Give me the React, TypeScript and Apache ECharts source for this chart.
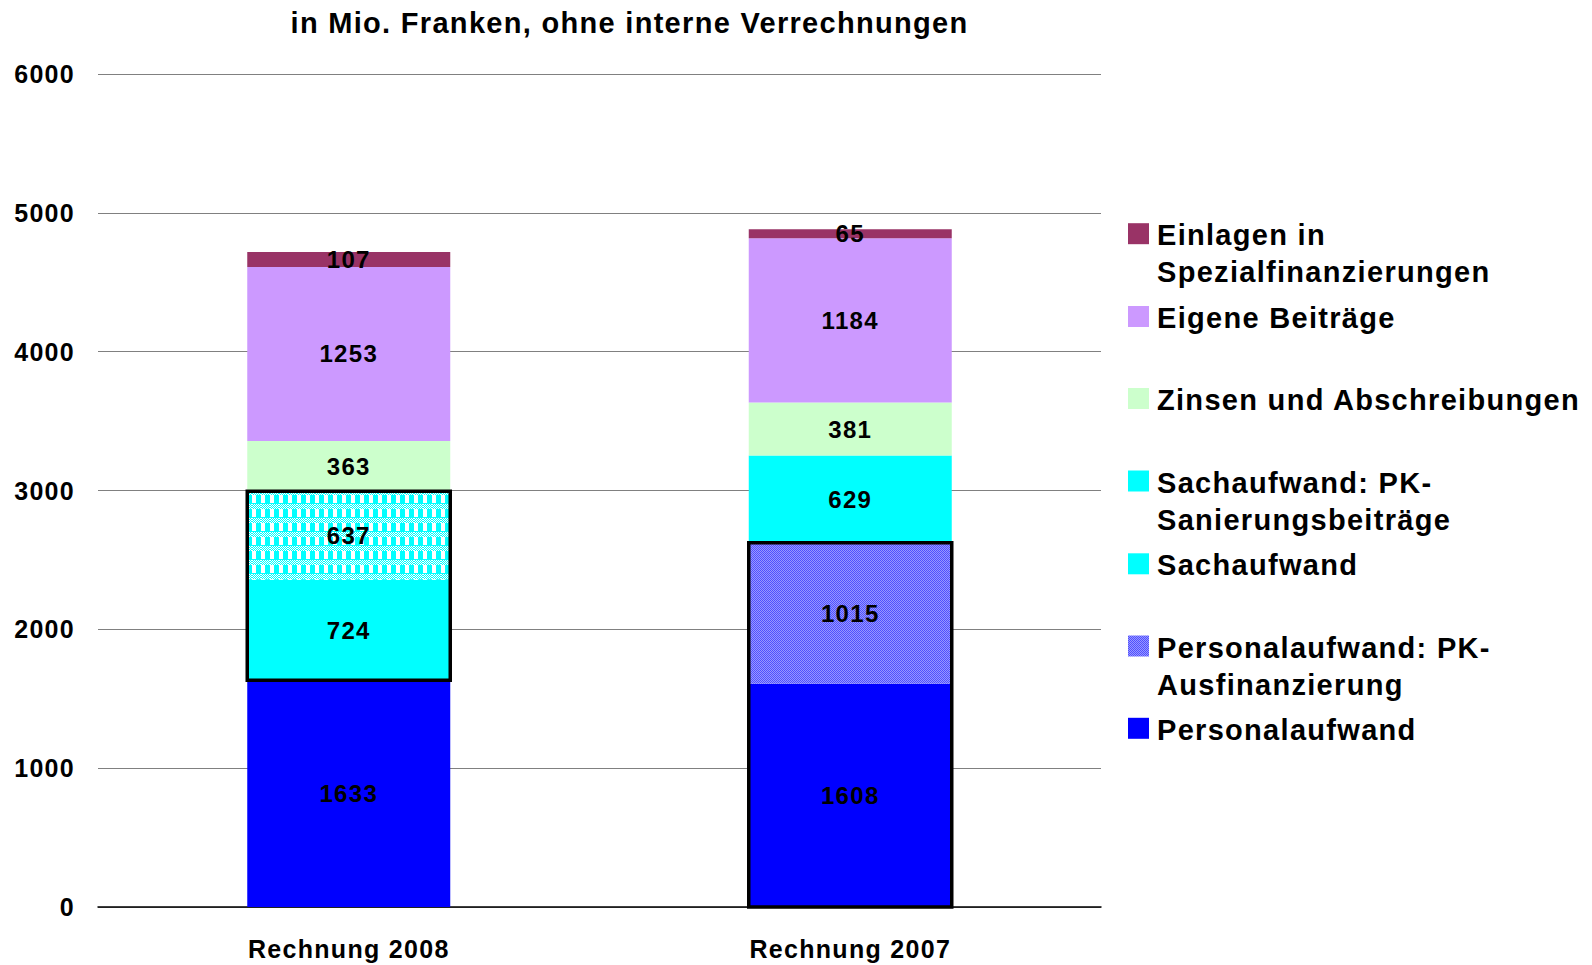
import React, { useEffect, useRef } from "react";
import * as echarts from "echarts";

const categories = ["Rechnung 2008", "Rechnung 2007"];
const personalaufwand = [1633, 1608];
const personalPK = [0, 1015];
const sachaufwand = [724, 629];
const sachPK = [637, 0];
const zinsen = [363, 381];
const eigene = [1253, 1184];
const einlagen = [107, 65];

const yMin = 0;
const yMax = 6000;
const yInterval = 1000;

const titleText = "in Mio. Franken, ohne interne Verrechnungen";

// series names that are framed with a black box, per category
const boxedGroups = [
  ["Sachaufwand", "Sachaufwand: PK-Sanierungsbeiträge"],
  ["Personalaufwand", "Personalaufwand: PK-Ausfinanzierung"],
];

const FONT = "'Liberation Sans', Arial, sans-serif";

function makePatternA() {
  const c = document.createElement("canvas");
  c.width = 9;
  c.height = 14;
  const g = c.getContext("2d")!;
  g.fillStyle = "#00FFFF";
  g.fillRect(0, 0, 9, 14);
  g.fillStyle = "#FFFFFF";
  for (let y = 0; y < 5; y++) {
    for (let x = 0; x < 9; x++) {
      if ((x + y) % 2 === 0) g.fillRect(x, y, 1, 1);
    }
  }
  g.fillRect(0, 5, 4, 8);
  return c;
}

function makePatternB() {
  const c = document.createElement("canvas");
  c.width = 2;
  c.height = 2;
  const g = c.getContext("2d")!;
  g.fillStyle = "#5050FF";
  g.fillRect(0, 0, 2, 2);
  g.fillStyle = "#9898FF";
  g.fillRect(1, 0, 1, 1);
  g.fillRect(0, 1, 1, 1);
  return c;
}

export default function App() {
  const ref = useRef<HTMLDivElement>(null);

  useEffect(() => {
    if (!ref.current) return;
    const chart = echarts.init(ref.current, null, { renderer: "svg" });

    const pa = makePatternA();
    const pb = makePatternB();
    const patternA: any = { image: pa, repeat: "repeat", imageWidth: 9, imageHeight: 14 };
    const patternB: any = { image: pb, repeat: "repeat", imageWidth: 2, imageHeight: 2 };

    const seriesDefs = [
      { name: "Personalaufwand", data: personalaufwand, color: "#0000FF" as any },
      { name: "Personalaufwand: PK-Ausfinanzierung", data: personalPK, color: patternB },
      { name: "Sachaufwand", data: sachaufwand, color: "#00FFFF" },
      { name: "Sachaufwand: PK-Sanierungsbeiträge", data: sachPK, color: patternA },
      { name: "Zinsen und Abschreibungen", data: zinsen, color: "#CCFFCC" },
      { name: "Eigene Beiträge", data: eigene, color: "#CC99FF" },
      { name: "Einlagen in Spezialfinanzierungen", data: einlagen, color: "#993366" },
    ];

    const legendItems = [
      { text: "Einlagen in\nSpezialfinanzierungen", fill: "#993366", cy: 233.7 },
      { text: "Eigene Beiträge", fill: "#CC99FF", cy: 316.5 },
      { text: "Zinsen und Abschreibungen", fill: "#CCFFCC", cy: 398.5 },
      { text: "Sachaufwand: PK-\nSanierungsbeiträge", fill: "#00FFFF", cy: 481 },
      { text: "Sachaufwand", fill: "#00FFFF", cy: 563.8 },
      { text: "Personalaufwand: PK-\nAusfinanzierung", fill: patternB, cy: 646 },
      { text: "Personalaufwand", fill: "#0000FF", cy: 728.3 },
    ];

    const boxData = categories.map((_, i) => {
      const names = boxedGroups[i];
      let low = 0;
      let high = 0;
      let acc = 0;
      let started = false;
      seriesDefs.forEach((s) => {
        const v = s.data[i];
        if (names.includes(s.name)) {
          if (!started) {
            low = acc;
            started = true;
          }
          high = acc + v;
        }
        acc += v;
      });
      return [i, low, high];
    });

    const barSeries = seriesDefs.map((s) => ({
      name: s.name,
      type: "bar",
      stack: "total",
      barWidth: 203,
      data: s.data,
      itemStyle: { color: s.color },
      label: {
        show: true,
        position: "inside",
        color: "#000",
        fontSize: 24,
        fontWeight: "bold",
        fontFamily: FONT,
        textBorderWidth: 0,
        textBorderColor: "transparent",
        formatter: (p: any) => (p.value === 0 ? "" : String(p.value)),
      },
    }));

    const graphics: any[] = [
      {
        type: "text",
        x: 629.5,
        y: 23,
        style: {
          text: titleText,
          fontSize: 29,
          fontWeight: "bold",
          fontFamily: FONT,
          fill: "#000",
          textAlign: "center",
          textVerticalAlign: "middle",
        },
      },
    ];
    legendItems.forEach((it) => {
      graphics.push({
        type: "rect",
        shape: { x: 1128, y: it.cy - 10.5, width: 21, height: 21 },
        style: { fill: it.fill },
      });
      graphics.push({
        type: "text",
        x: 1157,
        y: it.cy - 17,
        style: {
          text: it.text,
          fontSize: 29,
          fontWeight: "bold",
          fontFamily: FONT,
          fill: "#000",
          lineHeight: 37,
          textAlign: "left",
          textVerticalAlign: "top",
        },
      });
    });

    chart.setOption({
      animation: false,
      grid: { left: 98, right: 491, top: 74, bottom: 58, containLabel: false },
      xAxis: {
        type: "category",
        data: categories,
        axisTick: { show: false },
        axisLine: { show: true, lineStyle: { color: "#000", width: 1.5 } },
        axisLabel: {
          color: "#000",
          fontSize: 25,
          fontWeight: "bold",
          fontFamily: FONT,
          margin: 29,
        },
      },
      yAxis: {
        type: "value",
        min: yMin,
        max: yMax,
        interval: yInterval,
        axisLine: { show: false },
        axisTick: { show: false },
        splitLine: { lineStyle: { color: "#808080", width: 1 } },
        axisLabel: {
          color: "#000",
          fontSize: 25,
          fontWeight: "bold",
          fontFamily: FONT,
          margin: 23,
          formatter: (v: number) => String(v),
        },
      },
      series: [
        ...barSeries,
        {
          type: "custom",
          name: "box",
          z: 5,
          silent: true,
          data: boxData,
          encode: { x: 0, y: [1, 2] },
          renderItem: (params: any, api: any) => {
            const top = api.coord([api.value(0), api.value(2)]);
            const bot = api.coord([api.value(0), api.value(1)]);
            return {
              type: "rect",
              shape: { x: top[0] - 101.5, y: top[1], width: 203, height: bot[1] - top[1] },
              style: { fill: "none", stroke: "#000", lineWidth: 3.5 },
            };
          },
        },
      ],
      graphic: graphics,
    } as any);

    return () => chart.dispose();
  }, []);

  return (
    <div
      ref={ref}
      style={{
        position: "absolute",
        left: 0,
        top: 0,
        width: 1592,
        height: 965,
        background: "#fff",
        letterSpacing: "1.3px",
      }}
    />
  );
}
